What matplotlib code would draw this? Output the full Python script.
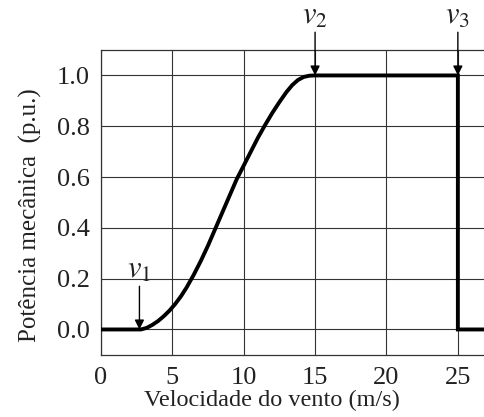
import numpy as np
import matplotlib
matplotlib.use("Agg")
import matplotlib.pyplot as plt

# curve
vento = [0, 2.8, 3.2, 3.6, 4.0, 4.4, 4.8, 5.2, 5.6, 6.0, 6.5, 7.0, 7.5, 8.0, 8.5, 9.0, 9.5, 10.0,
         10.5, 11.0, 11.5, 12.0, 12.5, 13.0, 13.4, 13.8, 14.2, 14.6, 15.0, 25.0, 25.0, 27.0]
potencia = [0, 0, 0.006, 0.018, 0.033, 0.052, 0.074, 0.10, 0.13, 0.165, 0.215, 0.27, 0.33, 0.395, 0.46,
            0.525, 0.59, 0.645, 0.70, 0.755, 0.805, 0.852, 0.895, 0.935, 0.962, 0.982, 0.994, 0.999,
            1.0, 1.0, 0.0, 0.0]

xticks = [0, 5, 10, 15, 20, 25]
yticks = [0.0, 0.2, 0.4, 0.6, 0.8, 1.0]
marcas = ["1", "2", "3"]
marcas_x = [2.7, 15.0, 25.0]
marcas_y = [0.0, 1.0, 1.0]

plt.rcParams['font.family'] = ['Liberation Serif', 'DejaVu Serif']
plt.rcParams['mathtext.fontset'] = 'stix'

fig = plt.figure(figsize=(4.85, 4.17), dpi=100)
ax = fig.add_axes([0.208, 0.149, 0.792, 0.731])

ax.plot(vento, potencia, color='black', lw=2.8, solid_joinstyle='miter', zorder=3)

ax.set_xlim(0, 26.9)
ax.set_ylim(-0.1, 1.1)
ax.set_xticks(xticks)
ax.set_yticks(yticks)
ax.set_xticklabels([str(t) for t in xticks])
ax.set_yticklabels([f"{t:.1f}" for t in yticks])
ax.tick_params(length=0, labelsize=19, colors='#222222')
ax.tick_params(axis='x', pad=9)
ax.tick_params(axis='y', pad=8)
ax.grid(True, color='#333333', lw=0.8)
for s in ['left', 'top', 'bottom']:
    ax.spines[s].set_linewidth(0.9)
    ax.spines[s].set_color('#333333')
ax.spines['right'].set_visible(False)

ax.set_xlabel("Velocidade do vento (m/s)", fontsize=17.5, color='#222222')
ax.xaxis.set_label_coords(0.445, -0.115)
ax.set_ylabel("Potência mecânica  (p.u.)", fontsize=18, color='#222222')
ax.yaxis.set_label_coords(-0.152, 0.46)

# arrows with v labels
for m, xm, ym in zip(marcas, marcas_x, marcas_y):
    top = ym + 0.17
    ax.annotate("", xy=(xm, ym), xytext=(xm, top), xycoords='data',
                arrowprops=dict(arrowstyle='-|>', color='black', lw=1.0,
                                mutation_scale=14, shrinkA=0, shrinkB=0),
                annotation_clip=False)
    ax.text(xm, top + 0.005, r"$v_{" + m + "}$", ha='center', va='bottom',
            fontsize=22, color='#222222', clip_on=False)

fig.savefig("out.png", dpi=100)
